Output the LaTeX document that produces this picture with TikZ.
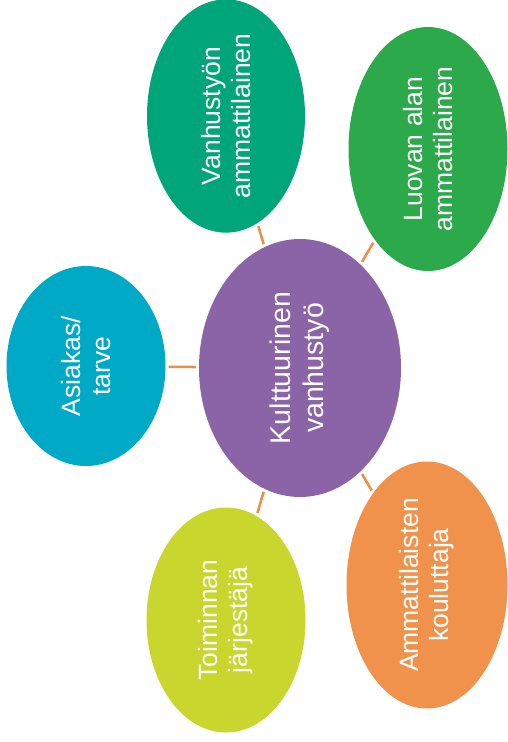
\documentclass[tikz,border=0pt]{standalone}
\usepackage{fontspec}
\setmainfont{Liberation Sans}
\usetikzlibrary{positioning, shapes.geometric}
\definecolor{hubpurple}{RGB}{138,100,166}
\definecolor{vanhgreen}{RGB}{0,166,122}
\definecolor{luovagreen}{RGB}{44,169,75}
\definecolor{asiakascyan}{RGB}{0,170,198}
\definecolor{koulorange}{RGB}{241,146,76}
\definecolor{toimlime}{RGB}{200,214,46}
\definecolor{linkorange}{RGB}{240,140,70}
\tikzset{
  bubble/.style={ellipse, inner sep=0pt, rotate=90, text=white, align=center, font=\fontsize{26.5}{30}\selectfont},
  hub/.style={bubble, fill=hubpurple, minimum width=258pt, minimum height=202pt, font=\fontsize{28.5}{33}\selectfont},
  link/.style={draw=linkorange, line width=2.5pt, shorten <=3pt, shorten >=3pt},
}

\begin{document}
\begin{tikzpicture}[x=1pt, y=-1pt]
      \useasboundingbox (0,0) rectangle (508,742);
      \node[hub] (hub) at (300,368) {Kulttuurinen\\vanhustyö};
      \node[bubble, fill=vanhgreen, minimum width=231pt, minimum height=158pt] (vanh) at (226,116) {Vanhustyön\\ammattilainen};
      \node[bubble, fill=luovagreen, minimum width=244pt, minimum height=159pt] (luova) at (428,149) {Luovan alan\\ammattilainen};
      \node[bubble, fill=asiakascyan, minimum width=200pt, minimum height=159pt] (asiakas) at (86,366) {Asiakas/\\tarve};
      \node[bubble, fill=toimlime, minimum width=225pt, minimum height=159pt] (toim) at (226,620) {Toiminnan\\järjestäjä};
      \node[bubble, fill=koulorange, minimum width=247pt, minimum height=161pt] (koul) at (427,585) {Ammattilaisten\\kouluttaja};

      \draw[link] (hub) -- (vanh);
      \draw[link] (hub) -- (luova);
      \draw[link] (hub) -- (asiakas);
      \draw[link] (hub) -- (toim);
      \draw[link] (hub) -- (koul);
    \end{tikzpicture}
\end{document}
